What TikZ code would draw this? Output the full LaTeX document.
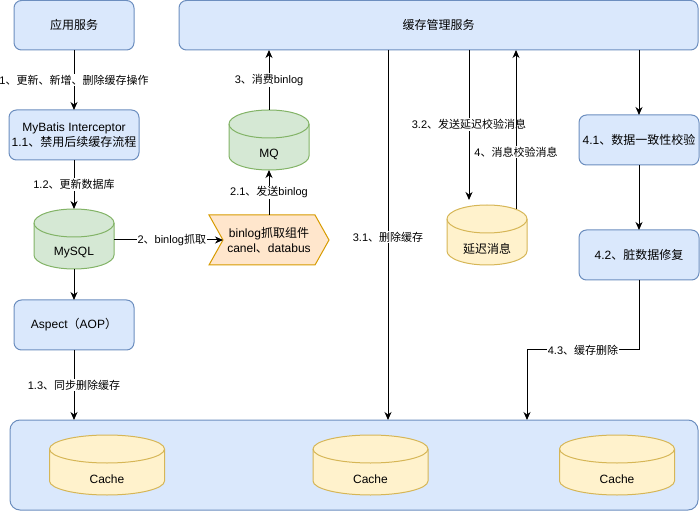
\documentclass[tikz,border=0pt]{standalone}
\usepackage{fontspec}
\setmainfont{Liberation Sans}
\newfontfamily\cjk{Noto Sans CJK SC}
\newcommand{\zh}[1]{{\cjk #1}}
\usetikzlibrary{arrows.meta,calc}
\definecolor{bfill}{HTML}{DAE8FC}
\definecolor{bdraw}{HTML}{6C8EBF}
\definecolor{gfill}{HTML}{D5E8D4}
\definecolor{gdraw}{HTML}{82B366}
\definecolor{yfill}{HTML}{FFF2CC}
\definecolor{ydraw}{HTML}{D6B656}
\definecolor{ofill}{HTML}{FFE6CC}
\definecolor{odraw}{HTML}{D79B00}
% cylinder outline: cx, cy, w, h, fill, draw
\newcommand{\cylpath}[6]{%
  \path[fill=#5, draw=#6, line width=1pt] ({#1-#3/2},{#2+#4/2-14}) -- ({#1-#3/2},{#2-#4/2+14})
    arc[start angle=180,end angle=360,x radius={#3/2},y radius=14]
    -- ({#1+#3/2},{#2+#4/2-14})
    arc[start angle=0,end angle=180,x radius={#3/2},y radius=14] -- cycle;
  \draw[#6, line width=1pt] ({#1-#3/2},{#2+#4/2-14})
    arc[start angle=180,end angle=360,x radius={#3/2},y radius=14];
}
\begin{document}
\begin{tikzpicture}[x=1pt,y=1pt,
  box/.style={rectangle, rounded corners=7.5pt, draw=bdraw, fill=bfill, line width=1pt,
    align=center, inner sep=0pt, outer sep=0pt, font=\fontsize{12}{15}\selectfont},
  ghost/.style={rectangle, draw=none, inner sep=0pt, outer sep=0pt, align=center,
    font=\fontsize{12}{15}\selectfont},
  arr/.style={-{Stealth[length=8pt,width=7pt,inset=2.5pt]}, line width=1pt, black},
  lbl/.style={fill=white, inner sep=1pt, font=\fontsize{11}{13}\selectfont, text=black}
]
\useasboundingbox (0,0) rectangle (700,511);

% bottom container with caches
\node[box, rounded corners=10pt, minimum width=688pt, minimum height=90pt] (cont) at (354,46) {};
\cylpath{107}{46}{115}{60}{yfill}{ydraw}
\node[ghost, minimum width=115pt, minimum height=60pt,
  label={[ghost,yshift=-14pt]center:Cache}] (cache1) at (107,46) {};
\cylpath{370.5}{46}{115}{60}{yfill}{ydraw}
\node[ghost, minimum width=115pt, minimum height=60pt,
  label={[ghost,yshift=-14pt]center:Cache}] (cache2) at (370.5,46) {};
\cylpath{617}{46}{115}{60}{yfill}{ydraw}
\node[ghost, minimum width=115pt, minimum height=60pt,
  label={[ghost,yshift=-14pt]center:Cache}] (cache3) at (617,46) {};

% boxes
\node[box, minimum width=120pt, minimum height=49.5pt] (app) at (74,485.75) {\zh{应用服务}};
\node[box, minimum width=519pt, minimum height=49.5pt] (mgr) at (438.5,485.75) {\zh{缓存管理服务}};
\node[box, minimum width=130pt, minimum height=50pt] (mybatis) at (74,376) {MyBatis Interceptor\\1.1\zh{、禁用后续缓存流程}};
\node[box, minimum width=120pt, minimum height=50pt] (aspect) at (74,186) {Aspect\zh{（}AOP\zh{）}};
\node[box, minimum width=120pt, minimum height=50pt] (c41) at (639,371) {4.1\zh{、数据一致性校验}};
\node[box, minimum width=120pt, minimum height=50pt] (c42) at (639,256) {4.2\zh{、脏数据修复}};

% cylinders
\cylpath{74}{272}{80}{60}{gfill}{gdraw}
\node[ghost, minimum width=80pt, minimum height=60pt,
  label={[ghost,yshift=-14pt]center:MySQL}] (mysql) at (74,272) {};
\cylpath{269}{371}{80}{60}{gfill}{gdraw}
\node[ghost, minimum width=80pt, minimum height=60pt,
  label={[ghost,yshift=-14pt]center:MQ}] (mq) at (269,371) {};
\cylpath{487}{276}{80}{60}{yfill}{ydraw}
\node[ghost, minimum width=80pt, minimum height=60pt,
  label={[ghost,yshift=-14pt]center:\zh{延迟消息}}] (delay) at (487,276) {};

% binlog step shape
\path[fill=ofill, draw=odraw, line width=1pt] (209,296) -- (315,296) -- (329,271) -- (315,246) -- (209,246) -- (223,271) -- cycle;
\node[ghost, minimum width=120pt, minimum height=50pt] (binlog) at (269,271) {binlog\zh{抓取组件}\\canel\zh{、}databus};

% helper coordinates
\coordinate (x31) at (388,0);
\coordinate (x32) at (469,0);
\coordinate (x4) at (516,0);
\coordinate (k43) at (527,161);
\coordinate (binin) at (223,271);

% connectors
\draw[arr] (app.south) -- node[lbl]{1\zh{、更新、新增、删除缓存操作}} (mybatis.north);
\draw[arr] (mybatis.south) -- node[lbl]{1.2\zh{、更新数据库}} (mysql.north);
\draw[arr] (mysql.south) -- (aspect.north);
\draw[arr] (aspect.south) -- node[lbl]{1.3\zh{、同步删除缓存}} (aspect.south |- cont.north);
\draw[arr] (mysql.east |- binin) -- node[lbl,pos=0.53]{2\zh{、}binlog\zh{抓取}} (binin);
\draw[arr] (binlog.north) -- node[lbl]{2.1\zh{、发送}binlog} (mq.south);
\draw[arr] (mq.north) -- node[lbl]{3\zh{、消费}binlog} (mq.north |- mgr.south);
\draw[arr] (x31 |- mgr.south) -- node[lbl,pos=0.505]{3.1\zh{、删除缓存}} (x31 |- cont.north);
\draw[arr, shorten >=5pt] (x32 |- mgr.south) -- node[lbl,pos=0.48]{3.2\zh{、发送延迟校验消息}} (x32 |- delay.north);
\draw[arr, shorten <=-4.4pt] (x4 |- delay.north) -- node[lbl,pos=0.34]{4\zh{、消息校验消息}} (x4 |- mgr.south);
\draw[arr] (c41.north |- mgr.south) -- (c41.north);
\draw[arr] (c41.south) -- (c42.north);
\draw[arr] (c42.south) |- node[lbl,pos=0.75]{4.3\zh{、缓存删除}} (k43) -- (k43 |- cont.north);
\end{tikzpicture}
\end{document}
